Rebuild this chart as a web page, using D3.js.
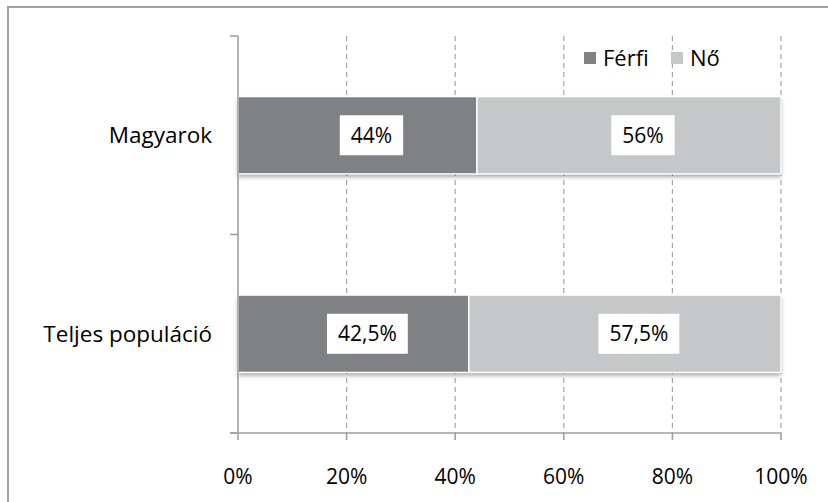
<!DOCTYPE html>
<html><head><meta charset="utf-8">
<script src="https://cdn.jsdelivr.net/npm/d3@7"></script>
<style>body{margin:0;background:#fff}svg{display:block}text{font-family:"Open Sans",sans-serif}</style>
</head><body>
<svg id="c" width="828" height="502"></svg>
<script>
const categories = ["Magyarok", "Teljes populáció"];
const seriesNames = ["Férfi", "Nő"];
const ferfi = [44, 42.5];
const no = [56, 57.5];
const labelsFerfi = ["44%", "42,5%"];
const labelsNo = ["56%", "57,5%"];
const xTicks = [0, 20, 40, 60, 80, 100];
const xTickLabels = ["0%", "20%", "40%", "60%", "80%", "100%"];

const colors = ["#808184", "#c6c7c9"];
const svg = d3.select("#c");
const W = 828, H = 502;
const m = {l: 238, r: 47, t: 36, b: 69};

const defs = svg.append("defs");
const f = defs.append("filter").attr("id","sh").attr("x","-5%").attr("y","-20%").attr("width","110%").attr("height","150%");
f.append("feDropShadow").attr("dx",0).attr("dy",3).attr("stdDeviation",2).attr("flood-color","#000").attr("flood-opacity",0.35);

// outer border (left & top visible)
svg.append("line").attr("x1",8).attr("x2",8).attr("y1",7).attr("y2",H).attr("stroke","#a3a3a3").attr("stroke-width",2);
svg.append("line").attr("x1",7).attr("x2",W).attr("y1",7).attr("y2",7).attr("stroke","#a3a3a3").attr("stroke-width",2);

const x = d3.scaleLinear().domain([0,100]).range([m.l, W - m.r]);
const y = d3.scaleBand().domain(categories).range([m.t, H - m.b]).paddingInner(0.61).paddingOuter(0.305);
const yEdges = d3.scaleLinear().domain([0, categories.length]).range([m.t, H - m.b]);

// gridlines
svg.append("g").selectAll("line").data(xTicks.slice(1)).join("line")
  .attr("x1", d => x(d)).attr("x2", d => x(d)).attr("y1", m.t).attr("y2", H - m.b)
  .attr("stroke","#a6a6a6").attr("stroke-width",1.2).attr("stroke-dasharray","5,4");

// bars
const stacks = categories.map((c,i) => [
  {c, s:0, x0:0, x1:ferfi[i], lab:labelsFerfi[i]},
  {c, s:1, x0:ferfi[i], x1:ferfi[i]+no[i], lab:labelsNo[i]}
]);
const bg = svg.append("g");
stacks.forEach(st => {
  const g = bg.append("g");
  g.append("rect").attr("x", x(0)).attr("y", y(st[0].c)).attr("width", x(100)-x(0)).attr("height", y.bandwidth())
    .attr("fill","#fff").attr("filter","url(#sh)");
  st.forEach(d => {
    g.append("rect").attr("x", x(d.x0)).attr("y", y(d.c)).attr("width", x(d.x1)-x(d.x0)).attr("height", y.bandwidth())
      .attr("fill", colors[d.s]).attr("stroke","#fff").attr("stroke-width",1.5);
  });
});

// axes
const ax = svg.append("g").attr("stroke","#a0a0a0").attr("stroke-width",1.6);
ax.append("line").attr("x1", x(0)).attr("x2", x(0)).attr("y1", m.t).attr("y2", H - m.b);
ax.append("line").attr("x1", x(0)-8).attr("x2", x(100)).attr("y1", H - m.b).attr("y2", H - m.b);
ax.selectAll(".yt").data(d3.range(categories.length+1)).join("line")
  .attr("x1", x(0)-8).attr("x2", x(0)).attr("y1", d => yEdges(d)).attr("y2", d => yEdges(d));
ax.selectAll(".xt").data(xTicks).join("line")
  .attr("x1", d => x(d)).attr("x2", d => x(d)).attr("y1", H - m.b).attr("y2", H - m.b + 7);

// tick labels
svg.append("g").selectAll("text").data(xTicks).join("text")
  .attr("x", d => x(d)).attr("y", H - m.b + 51).attr("text-anchor","middle")
  .attr("font-size", 21).attr("fill","#000").text((d,i) => xTickLabels[i]);
svg.append("g").selectAll("text").data(categories).join("text")
  .attr("x", 212).attr("y", d => y(d) + y.bandwidth()/2 + 8).attr("text-anchor","end")
  .attr("font-size", 22.5).attr("fill","#000").text(d => d);

// data labels
const lg = svg.append("g");
stacks.flat().forEach(d => {
  const cx = (x(d.x0) + x(d.x1))/2 + 14;
  const cy = y(d.c) + y.bandwidth()/2;
  const t = lg.append("text").attr("x", cx).attr("y", cy + 7.5).attr("text-anchor","middle")
    .attr("font-size", 21).attr("fill","#000").text(d.lab);
  const bb = t.node().getBBox();
  lg.insert("rect", () => t.node()).attr("x", bb.x - 11).attr("y", cy - 20).attr("width", bb.width + 22).attr("height", 40).attr("fill","#fff");
});

// legend
const leg = svg.append("g");
const legX = [584, 671];
seriesNames.forEach((n,i) => {
  leg.append("rect").attr("x", legX[i]).attr("y", 52).attr("width", 12).attr("height", 12).attr("fill", colors[i]);
  leg.append("text").attr("x", legX[i] + 19).attr("y", 65.5).attr("font-size", 22).attr("fill","#000").text(n);
});
</script>
</body></html>
